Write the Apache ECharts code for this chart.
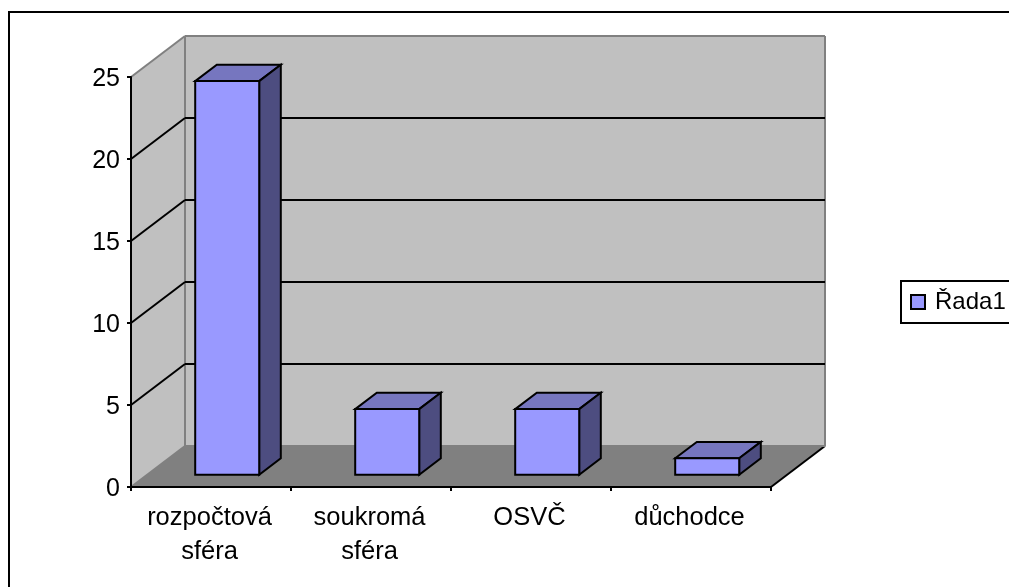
<!DOCTYPE html>
<html>
<head>
<meta charset="utf-8">
<style>html,body{margin:0;padding:0;background:#fff}#c{width:1009px;height:587px}</style>
<script src="https://cdn.jsdelivr.net/npm/echarts@6/dist/echarts.min.js"></script>
</head>
<body>
<div id="c"></div>
<script>
var categories = ['rozpočtová\nsféra', 'soukromá\nsféra', 'OSVČ', 'důchodce'];
var values = [24, 4, 4, 1];
var yTicks = [0, 5, 10, 15, 20, 25];
var seriesName = 'Řada1';

var DEPTH_X = 54, DEPTH_Y = 41;
var NEAR = 0.3, FAR = 0.7, BAR_SHARE = 0.4;
var FONT = '"Liberation Sans", Arial, sans-serif';

function poly(points, fill, stroke, width) {
  return { type: 'polygon', shape: { points: points },
    style: { fill: fill, stroke: stroke || null, lineWidth: width || 0, lineJoin: 'miter' } };
}
function seg(a, b, color, width) {
  return { type: 'line', shape: { x1: a[0], y1: a[1], x2: b[0], y2: b[1] },
    style: { stroke: color, lineWidth: width } };
}

function renderRoom(params, api) {
  var cs = params.coordSys;
  var l = cs.x, r = cs.x + cs.width, t = cs.y, b = cs.y + cs.height;
  var dx = DEPTH_X, dy = DEPTH_Y;
  return { type: 'group', children: [
    poly([[l, b], [l + dx, b - dy], [r + dx, b - dy], [r, b]], '#808080'),
    poly([[l, t], [l + dx, t - dy], [l + dx, b - dy], [l, b]], '#c0c0c0'),
    poly([[l + dx, t - dy], [r + dx, t - dy], [r + dx, b - dy], [l + dx, b - dy]], '#c0c0c0'),
    seg([l, t], [l + dx, t - dy], '#808080', 2),
    seg([l, b], [l + dx, b - dy], '#808080', 2),
    seg([r, b], [r + dx, b - dy], '#000', 2),
    seg([l + dx, t - dy], [r + dx, t - dy], '#808080', 2),
    seg([l + dx, t - dy], [l + dx, b - dy], '#808080', 2),
    seg([r + dx, t - dy], [r + dx, b - dy], '#808080', 2),
    seg([l + dx, b - dy], [r + dx, b - dy], '#808080', 2)
  ] };
}

function renderGridLine(params, api) {
  var cs = params.coordSys;
  var y = api.coord([0, api.value(0)])[1];
  var l = cs.x, r = cs.x + cs.width;
  return { type: 'group', children: [
    seg([l, y], [l + DEPTH_X, y - DEPTH_Y], '#000', 2),
    seg([l + DEPTH_X, y - DEPTH_Y], [r + DEPTH_X, y - DEPTH_Y], '#000', 2)
  ] };
}

function renderBar(params, api) {
  var top = api.coord([api.value(0), api.value(1)]);
  var base = api.coord([api.value(0), 0]);
  var w = api.size([1, 0])[0] * BAR_SHARE;
  var x0 = top[0] - w / 2 + DEPTH_X * NEAR, x1 = x0 + w;
  var yT = top[1] - DEPTH_Y * NEAR, yB = base[1] - DEPTH_Y * NEAR;
  var ox = DEPTH_X * (FAR - NEAR), oy = DEPTH_Y * (FAR - NEAR);
  return { type: 'group', children: [
    poly([[x0, yT], [x0 + ox, yT - oy], [x1 + ox, yT - oy], [x1, yT]], '#7676bf', '#000', 2),
    poly([[x1, yT], [x1 + ox, yT - oy], [x1 + ox, yB - oy], [x1, yB]], '#4d4d80', '#000', 2),
    poly([[x0, yT], [x1, yT], [x1, yB], [x0, yB]], '#9999ff', '#000', 2)
  ] };
}

var chart = echarts.init(document.getElementById('c'), null, { renderer: 'canvas' });
chart.setOption({
  animation: false,
  backgroundColor: '#fff',
  grid: { left: 131, top: 77, width: 640, height: 410, containLabel: false },
  graphic: [{ type: 'rect', silent: true, z: 0,
    shape: { x: 9, y: 12, width: 1200, height: 800 },
    style: { fill: null, stroke: '#000', lineWidth: 2 } }],
  legend: {
    left: 901, top: 281, orient: 'horizontal',
    padding: [9, 20, 9, 9],
    itemWidth: 14, itemHeight: 14, itemGap: 0,
    borderColor: '#000', borderWidth: 2,
    backgroundColor: '#fff',
    data: [{ name: seriesName, icon: 'rect' }],
    textStyle: { fontFamily: FONT, fontSize: 24, color: '#000', padding: [2, 0, 0, 5] }
  },
  xAxis: {
    type: 'category', data: categories, z: 10,
    axisLine: { lineStyle: { color: '#000', width: 2 } },
    axisTick: { show: true, length: 4, alignWithLabel: false, lineStyle: { color: '#000', width: 2 } },
    axisLabel: { fontFamily: FONT, fontSize: 25.5, color: '#000', lineHeight: 34, margin: 14, interval: 0,
      padding: [0, 3, 0, 0] },
    splitLine: { show: false }
  },
  yAxis: {
    type: 'value', min: 0, max: 25, interval: 5, z: 10,
    axisLine: { show: true, lineStyle: { color: '#000', width: 2 } },
    axisTick: { show: true, length: 4, lineStyle: { color: '#000', width: 2 } },
    axisLabel: { fontFamily: FONT, fontSize: 25, color: '#000', margin: 11,
      verticalAlign: 'top', lineHeight: 4, customValues: yTicks },
    splitLine: { show: false }
  },
  series: [
    { name: 'room', type: 'custom', z: 1, silent: true, renderItem: renderRoom,
      data: [[0]], encode: { x: 0 } },
    { name: 'grid', type: 'custom', z: 2, silent: true, renderItem: renderGridLine,
      data: yTicks.slice(1, -1).map(function (v) { return [v]; }), encode: { y: 0 } },
    { name: seriesName, type: 'custom', z: 3, renderItem: renderBar,
      itemStyle: { color: '#9999ff', borderColor: '#000', borderWidth: 2 },
      data: values.map(function (v, i) { return [i, v]; }), encode: { x: 0, y: 1 } }
  ]
});
</script>
</body>
</html>
